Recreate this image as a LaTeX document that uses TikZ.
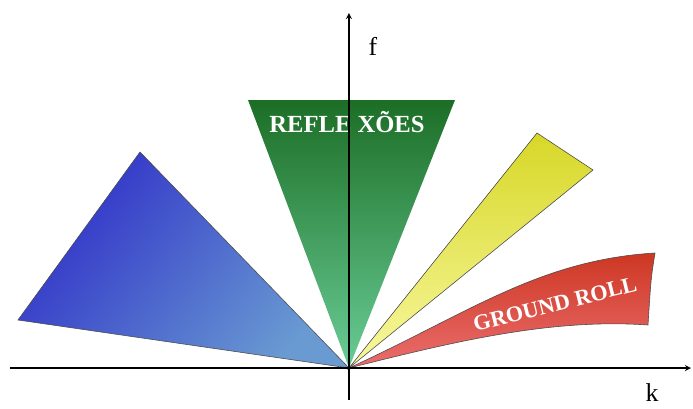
\documentclass[tikz,border=0pt]{standalone}
\usepackage{fontspec}
\setmainfont{Liberation Serif}
\definecolor{bluedark}{RGB}{48, 48, 200}
\definecolor{bluelight}{RGB}{105, 155, 210}
\definecolor{greendark}{RGB}{28, 110, 38}
\definecolor{greenlight}{RGB}{105, 205, 150}
\definecolor{yellowdark}{RGB}{215, 215, 40}
\definecolor{yellowlight}{RGB}{248, 248, 160}
\definecolor{reddark}{RGB}{205, 55, 35}
\definecolor{redlight}{RGB}{235, 110, 110}

\begin{document}
\begin{tikzpicture}[x=0.03cm, y=0.03cm, >=stealth,
  sector/.style={draw=black!70, line width=0.5pt},
  axis/.style={->, line width=1.3pt},
  lbl/.style={text=white, font=\bfseries\fontsize{21}{21}\selectfont, inner sep=0pt}]
  \useasboundingbox (-349,-40) rectangle (344,368);
  \coordinate (O) at (0,0);
  % blue wedge
  \shadedraw[sector, left color=bluedark, right color=bluelight, shading angle=50]
    (O) -- (-209,216) -- (-331,48) -- cycle;
  % reflexoes
  \shadedraw[sector, draw=none, top color=greendark, bottom color=greenlight]
    (O) -- (-101,268) -- (106,268) -- cycle;
  % yellow wedge
  \shadedraw[sector, top color=yellowdark, bottom color=yellowlight]
    (O) -- (188,235) -- (244,198) -- cycle;
  % ground roll
  \shadedraw[sector, top color=reddark, bottom color=redlight]
    (O) .. controls (120,55) and (190,108) .. (306,115)
    .. controls (302,90) .. (299,43)
    .. controls (200,50) and (100,25) .. (O);
  \node[lbl] (refl) at (-2,246) {REFLE XÕES};
  \node[lbl, rotate=14, font=\bfseries\fontsize{19}{19}\selectfont] (ground) at (206,64) {GROUND ROLL};
  % axes
  \coordinate (xl) at (-339,0);
  \coordinate (xr) at (342,0);
  \coordinate (yb) at (0,-32);
  \coordinate (yt) at (0,355);
  \draw[axis] (xl) -- (xr);
  \draw[axis] (yb) -- (yt);
  \node[font=\fontsize{22}{22}\selectfont] (f) at (24,322) {f};
  \node[font=\fontsize{22}{22}\selectfont] (k) at (303,-25) {k};
\end{tikzpicture}
\end{document}
